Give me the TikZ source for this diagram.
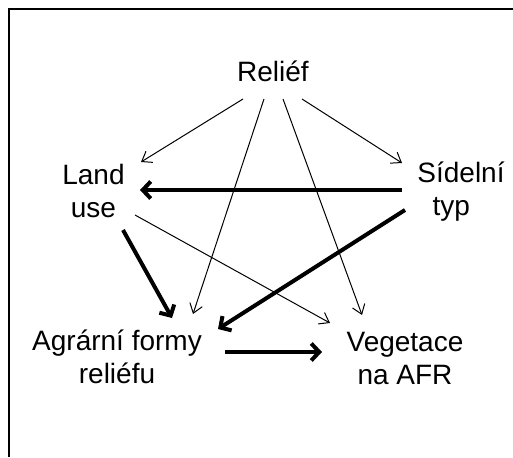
\documentclass[tikz,border=0pt]{standalone}
\usepackage{fontspec}
\setmainfont{Liberation Sans}
\usetikzlibrary{arrows.meta}
\begin{document}
\begin{tikzpicture}[x=1pt,y=-1pt,
  lbl/.style={inner sep=0pt, align=center, font=\fontsize{28}{33}\selectfont},
  weakarrow/.style={line width=1pt, -{Straight Barb[length=9pt,width=13pt]}},
  boldarrow/.style={line width=4pt, -{Straight Barb[length=8pt,width=17pt]}},
  frame/.style={line width=2.2pt}]
  \useasboundingbox (0,0) rectangle (513,457);
  % open frame: left and top edges only
  \draw[frame] (9,457) -- (9,9) -- (513,9);

  % concepts
  \node[lbl, anchor=base] (relief) at (273,82) {Reliéf};
  \node[lbl] (landuse) at (93.5,191) {Land\\use};
  \node[lbl] (sidelni) at (461,191.5) {Sídelní\\typ\hbox to 0.7em{}};
  \node[lbl] (agrarni) at (117,356.5) {Agrární formy\\reliéfu};
  \node[lbl] (vegetace) at (405,359) {Vegetace\\na AFR};

  % weak influences
  \draw[weakarrow] ([shift={(-30,17)}]relief.base) -- ([shift={(47.5,-29)}]landuse.center);
  \draw[weakarrow] ([shift={(-9,17)}]relief.base) -- ([shift={(76,-42.5)}]agrarni.center);
  \draw[weakarrow] ([shift={(10,17)}]relief.base) -- ([shift={(-43,-44)}]vegetace.center);
  \draw[weakarrow] ([shift={(29,17)}]relief.base) -- ([shift={(-59,-28.5)}]sidelni.center);
  \draw[weakarrow] ([shift={(41.5,24)}]landuse.center) -- ([shift={(-75,-36)}]vegetace.center);

  % strong influences
  \draw[boldarrow] ([shift={(-59,-1.5)}]sidelni.center) -- ([shift={(46.5,-1)}]landuse.center);
  \draw[boldarrow] ([shift={(-56,18.5)}]sidelni.center) -- ([shift={(101,-27.5)}]agrarni.center);
  \draw[boldarrow] ([shift={(29.5,39)}]landuse.center) -- ([shift={(55,-38.5)}]agrarni.center);
  \draw[boldarrow] ([shift={(108,-4.5)}]agrarni.center) -- ([shift={(-83,-7)}]vegetace.center);
\end{tikzpicture}
\end{document}
